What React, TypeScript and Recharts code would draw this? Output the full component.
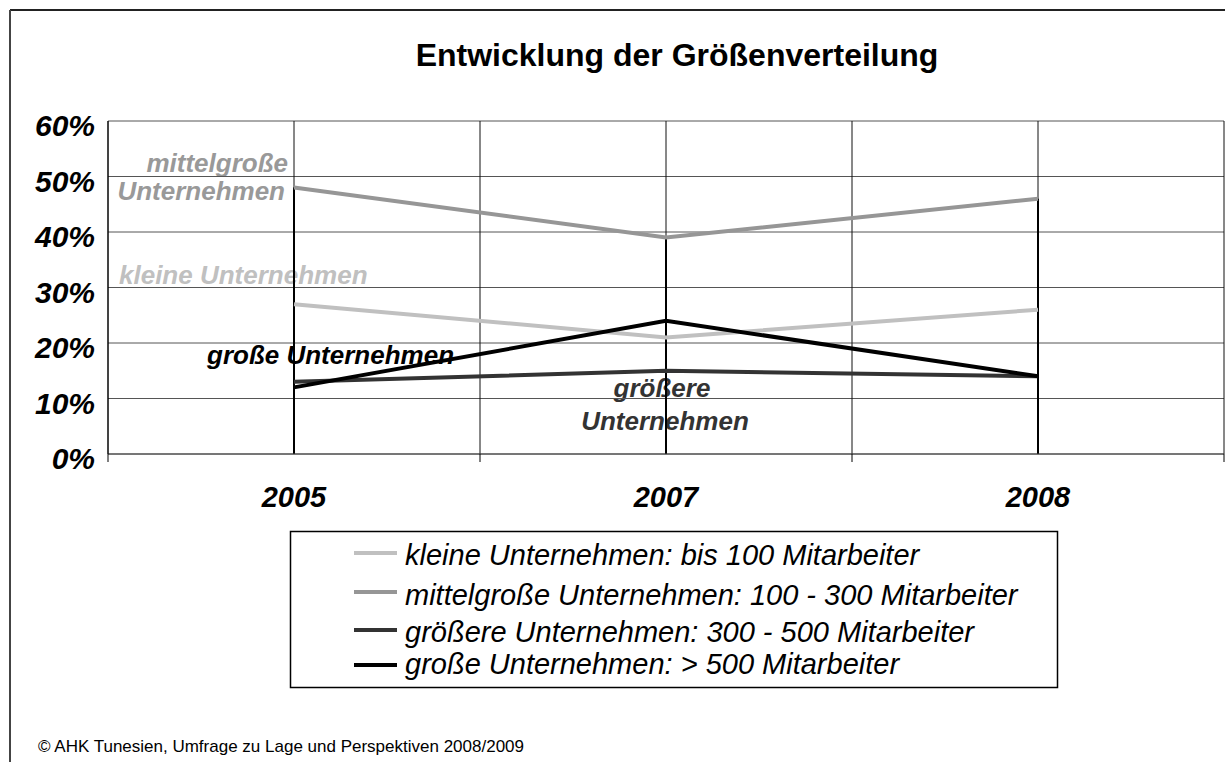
import React from 'react';
import { LineChart, Line, XAxis, YAxis, CartesianGrid, ReferenceLine } from 'recharts';

const FONT = '"Liberation Sans", Arial, sans-serif';

// data
const years = ['2005', '2007', '2008'];
const kleine = [27, 21, 26];
const mittelgross = [48, 39, 46];
const groessere = [13, 15, 14];
const grosse = [12, 24, 14];
const yTicks = [0, 10, 20, 30, 40, 50, 60];

const SERIES = [
  { key: 'kleine', name: 'kleine Unternehmen: bis 100 Mitarbeiter', color: '#c0c0c0', values: kleine },
  { key: 'mittelgross', name: 'mittelgroße Unternehmen: 100 - 300 Mitarbeiter', color: '#969696', values: mittelgross },
  { key: 'groessere', name: 'größere Unternehmen: 300 - 500 Mitarbeiter', color: '#333333', values: groessere },
  { key: 'grosse', name: 'große Unternehmen: > 500 Mitarbeiter', color: '#000000', values: grosse },
];

// every year sits in the middle of its own band, band edges are the even positions
const data = years.map((year, i) => {
  const row: Record<string, number | string> = { year, pos: i * 2 + 1 };
  SERIES.forEach((s) => (row[s.key] = s.values[i]));
  return row;
});
const xTicks = Array.from({ length: years.length * 2 + 1 }, (_, i) => i);
const dropLines = years.map((_, i) => ({ pos: i * 2 + 1, top: Math.max(...SERIES.map((s) => s.values[i])) }));

// legend rows: text baseline and sample line y
const LEGEND_ROWS = [
  { text: 565, line: 553 },
  { text: 605, line: 592 },
  { text: 642, line: 630 },
  { text: 674, line: 665 },
];

const XTick = (props: any) => {
  const { x, y, payload } = props;
  const v = payload.value as number;
  if (v % 2 === 0) {
    return <line x1={x} y1={y} x2={x} y2={y + 8} stroke="#000" strokeWidth={1} />;
  }
  return (
    <text x={x} y={y + 53} textAnchor="middle" fontFamily={FONT} fontSize={29} fontWeight="bold" fontStyle="italic" fill="#000">
      {years[(v - 1) / 2]}
    </text>
  );
};

const YTick = (props: any) => {
  const { x, y, payload } = props;
  return (
    <text x={x - 13} y={y + 15} textAnchor="end" fontFamily={FONT} fontSize={30} fontWeight="bold" fontStyle="italic" fill="#000">
      {`${payload.value}%`}
    </text>
  );
};

const annoStyle = { fontFamily: FONT, fontSize: 26, fontWeight: 'bold' as const, fontStyle: 'italic' as const };

export default function App() {
  return (
    <div style={{ position: 'absolute', left: 0, top: 0, width: 1225, height: 762, background: '#fff', overflow: 'hidden' }}>
      <svg width={1225} height={762} style={{ position: 'absolute', left: 0, top: 0 }}>
        <line x1={10} y1={10} x2={1225} y2={10} stroke="#222" strokeWidth={2} />
        <line x1={10} y1={10} x2={10} y2={762} stroke="#444" strokeWidth={2} />
        <text x={677} y={66} textAnchor="middle" fontFamily={FONT} fontSize={32} fontWeight="bold" fill="#000">
          Entwicklung der Größenverteilung
        </text>

        <text x={288} y={172} textAnchor="end" fill="#999999" {...annoStyle}>mittelgroße</text>
        <text x={285} y={200} textAnchor="end" fill="#999999" {...annoStyle}>Unternehmen</text>
        <text x={119} y={284} fill="#c0c0c0" {...annoStyle}>kleine Unternehmen</text>
        <text x={207} y={364} fill="#000" {...annoStyle}>große Unternehmen</text>
        <text x={662} y={397} textAnchor="middle" fill="#333" {...annoStyle}>größere</text>
        <text x={665} y={430} textAnchor="middle" fill="#333" {...annoStyle}>Unternehmen</text>

        <rect x={290.5} y={531.5} width={767} height={156} fill="none" stroke="#000" strokeWidth={1.5} />
        {SERIES.map((s, i) => (
          <g key={s.key}>
            <line x1={354} y1={LEGEND_ROWS[i].line} x2={397} y2={LEGEND_ROWS[i].line} stroke={s.color} strokeWidth={4} />
            <text x={405} y={LEGEND_ROWS[i].text} fontFamily={FONT} fontSize={29} fontStyle="italic" fill="#000">
              {s.name}
            </text>
          </g>
        ))}

        <text x={38} y={752} fontFamily={FONT} fontSize={17} fill="#000">
          © AHK Tunesien, Umfrage zu Lage und Perspektiven 2008/2009
        </text>
      </svg>

      <div style={{ position: 'absolute', left: 0, top: 0 }}>
        <LineChart width={1225} height={762} data={data} margin={{ top: 121, right: 1, bottom: 248, left: 8 }}>
          <CartesianGrid horizontal vertical={false} stroke="#555" />
          <CartesianGrid horizontal={false} vertical stroke="#111" />
          <XAxis
            type="number"
            dataKey="pos"
            domain={[0, xTicks.length - 1]}
            ticks={xTicks}
            interval={0}
            height={60}
            tickSize={0}
            tickMargin={0}
            tickLine={false}
            axisLine={{ stroke: '#444' }}
            tick={<XTick />}
          />
          <YAxis
            domain={[0, 60]}
            ticks={yTicks}
            interval={0}
            width={100}
            tickSize={0}
            tickMargin={0}
            tickLine={false}
            axisLine={{ stroke: '#000' }}
            tick={<YTick />}
          />
          {dropLines.map((d) => (
            <ReferenceLine
              key={d.pos}
              segment={[{ x: d.pos, y: 0 }, { x: d.pos, y: d.top }]}
              stroke="#000"
              strokeWidth={2}
            />
          ))}
          {SERIES.map((s) => (
            <Line
              key={s.key}
              type="linear"
              dataKey={s.key}
              stroke={s.color}
              strokeWidth={4}
              dot={false}
              activeDot={false}
              isAnimationActive={false}
            />
          ))}
        </LineChart>
      </div>
    </div>
  );
}
